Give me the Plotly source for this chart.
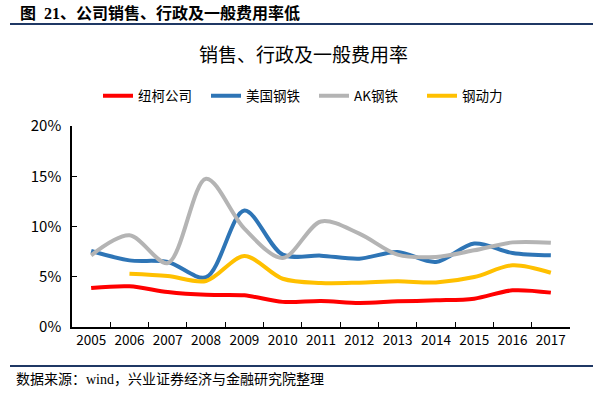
import plotly.graph_objects as go

years = [str(y) for y in range(2005, 2018)]
nucor = [3.88, 4.05, 3.48, 3.20, 3.15, 2.50, 2.59, 2.39, 2.55, 2.65, 2.82, 3.65, 3.42]
us_steel = [7.56, 6.63, 6.47, 4.95, 11.6, 7.20, 7.10, 6.80, 7.46, 6.47, 8.30, 7.36, 7.13]
ak_steel = [7.13, 9.12, 6.37, 14.76, 9.78, 6.87, 10.5, 9.29, 7.20, 6.97, 7.63, 8.42, 8.39]
steel_dynamics = [None, 5.30, 5.07, 4.58, 7.06, 4.80, 4.38, 4.41, 4.54, 4.44, 4.97, 6.14, 5.40]

series_names = ["纽柯公司", "美国钢铁", "AK钢铁", "钢动力"]
series_values = [nucor, us_steel, ak_steel, steel_dynamics]
colors = ["#FF0000", "#2E75B6", "#B4B4B4", "#FFC000"]

header = "图  21、公司销售、行政及一般费用率低"
chart_title = "销售、行政及一般费用率"
source = "数据来源：wind，兴业证券经济与金融研究院整理"

fig = go.Figure()
for name, vals, c in zip(series_names, series_values, colors):
    fig.add_trace(go.Scatter(
        x=years, y=[v / 100 if v is not None else None for v in vals],
        name=name, mode="lines",
        line=dict(color=c, width=4, shape="spline", smoothing=0.9),
        connectgaps=False,
    ))

W, H = 605, 396
L, R, T, B = 72, 35, 126, 69
pw = W - L - R
ph = H - T - B

def px2x(px):
    return (px - L) / pw

def py2y(py):
    return (H - B - py) / ph

cjk = "Noto Sans CJK SC, Open Sans, sans-serif"
serif = "Liberation Serif, Noto Sans CJK SC, serif"

fig.update_layout(
    width=W, height=H,
    margin=dict(l=L, r=R, t=T, b=B, autoexpand=False),
    paper_bgcolor="white", plot_bgcolor="white",
    font=dict(family=cjk, color="#000000", size=14),
    showlegend=True,
    legend=dict(orientation="h", x=px2x(98), xanchor="left", y=py2y(96), yanchor="middle",
                font=dict(size=13.5, family=cjk), itemwidth=30, entrywidth=63,
                entrywidthmode="pixels", tracegroupgap=0,
                bgcolor="rgba(0,0,0,0)"),
    xaxis=dict(type="category", showline=True, linecolor="#000000", linewidth=1.5,
               ticks="inside", ticklen=5, tickcolor="#000000", tickwidth=1.2,
               tickson="boundaries", showgrid=False, zeroline=False, automargin=False,
               tickangle=0, tickfont=dict(size=13.5, family=cjk), range=[-0.5, 12.5]),
    yaxis=dict(range=[0, 0.2], tickvals=[0, 0.05, 0.10, 0.15, 0.20],
               ticktext=["0%", "5%", "10%", "15%", "20%"],
               showline=True, linecolor="#000000", linewidth=1.5, automargin=False,
               ticks="inside", ticklen=5, tickcolor="#000000", tickwidth=1.2,
               showgrid=False, zeroline=False, tickfont=dict(size=15, family=cjk),
               ticklabelstandoff=6),
    shapes=[
        dict(type="line", xref="paper", yref="paper", x0=px2x(10), x1=px2x(593),
             y0=py2y(24), y1=py2y(24), line=dict(color="#1F3864", width=2)),
        dict(type="line", xref="paper", yref="paper", x0=px2x(10), x1=px2x(593),
             y0=py2y(366), y1=py2y(366), line=dict(color="#1F3864", width=2)),
    ],
    annotations=[
        dict(text="<b>" + header + "</b>", xref="paper", yref="paper", x=px2x(18), y=py2y(13),
             xanchor="left", yanchor="middle", showarrow=False,
             font=dict(size=16, family=serif, color="#000000")),
        dict(text=chart_title, xref="paper", yref="paper", x=px2x(303), y=py2y(53),
             xanchor="center", yanchor="middle", showarrow=False,
             font=dict(size=19, family=cjk, color="#000000")),
        dict(text=source, xref="paper", yref="paper", x=px2x(14), y=py2y(379),
             xanchor="left", yanchor="middle", showarrow=False,
             font=dict(size=14, family=serif, color="#000000")),
    ],
)

fig.write_html("out.html", config={"displayModeBar": False},
               post_script="document.body.style.margin='0px';")
